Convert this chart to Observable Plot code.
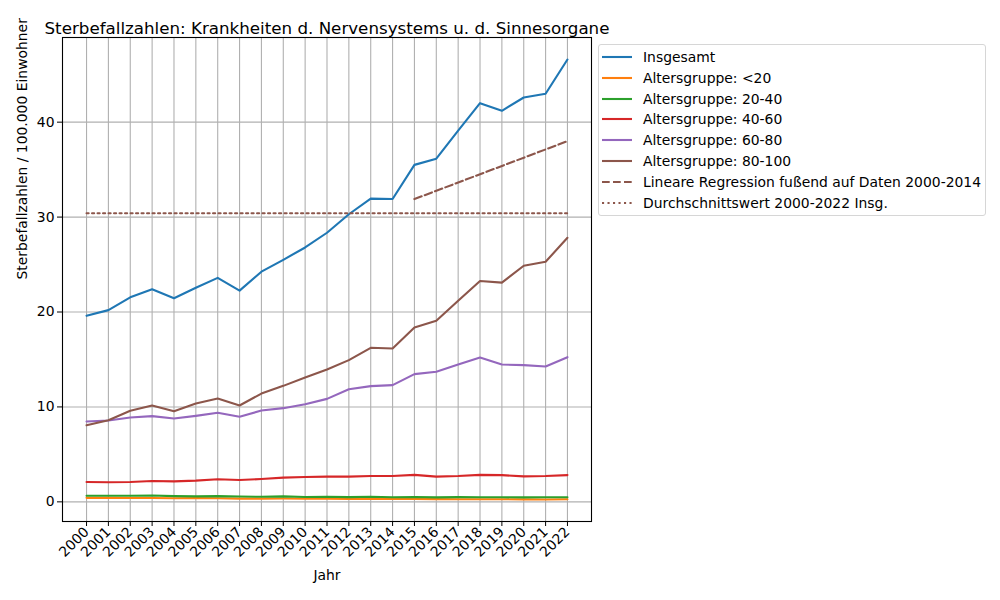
<!DOCTYPE html>
<html>
<head>
<meta charset="utf-8">
<script src="https://cdn.jsdelivr.net/npm/d3@7"></script>
<script src="https://cdn.jsdelivr.net/npm/@observablehq/plot@0.6"></script>
<style>
  body { margin: 0; background: #fff; font-family: "DejaVu Sans", sans-serif; }
  #wrap { position: relative; width: 1000px; height: 600px; }
  #legend { position: absolute; left: 598px; top: 44px; width: 388px; height: 172px;
    border: 1px solid #d6d6d6; border-radius: 3px; box-sizing: border-box; background: #fff; }
  .row { position: absolute; left: 0; height: 20px; display: flex; align-items: center; font-size: 13.9px; color: #000; white-space: nowrap; }
  .row svg { margin-left: 3px; margin-right: 11px; }
</style>
</head>
<body>
<div id="wrap"><div id="chart"></div><div id="legend"></div></div>
<script>
const years = [2000,2001,2002,2003,2004,2005,2006,2007,2008,2009,2010,2011,2012,2013,2014,2015,2016,2017,2018,2019,2020,2021,2022];
const insgesamt = [19.6,20.2,21.55,22.4,21.45,22.55,23.6,22.25,24.25,25.5,26.8,28.35,30.3,31.95,31.9,35.5,36.15,39.1,42.0,41.2,42.6,43.0,46.6];
const ag_u20   = [0.42,0.42,0.41,0.40,0.38,0.39,0.38,0.34,0.34,0.36,0.33,0.33,0.30,0.31,0.31,0.31,0.29,0.28,0.28,0.28,0.26,0.25,0.28];
const ag_20_40 = [0.64,0.64,0.64,0.67,0.60,0.58,0.60,0.56,0.53,0.58,0.51,0.54,0.50,0.54,0.48,0.51,0.47,0.50,0.48,0.48,0.47,0.48,0.48];
const ag_40_60 = [2.09,2.06,2.09,2.2,2.16,2.24,2.38,2.3,2.41,2.55,2.62,2.66,2.66,2.72,2.72,2.84,2.66,2.72,2.84,2.82,2.68,2.72,2.82];
const ag_60_80 = [8.46,8.57,8.88,9.03,8.78,9.06,9.38,8.96,9.62,9.87,10.29,10.85,11.87,12.19,12.3,13.46,13.7,14.47,15.2,14.47,14.4,14.26,15.24];
const ag_80_100= [8.08,8.6,9.59,10.15,9.55,10.36,10.89,10.15,11.41,12.22,13.1,13.94,14.93,16.23,16.16,18.37,19.07,21.18,23.26,23.1,24.87,25.29,27.82];
const regYears = [2015, 2022];
const regValues = [31.9, 38.0];
const avgValue = 30.4;
const yTicks = [0,10,20,30,40];

const seriesNames = ["Insgesamt","Altersgruppe: <20","Altersgruppe: 20-40","Altersgruppe: 40-60","Altersgruppe: 60-80","Altersgruppe: 80-100"];
const seriesValues = [insgesamt, ag_u20, ag_20_40, ag_40_60, ag_60_80, ag_80_100];
const colors = ["#1f77b4","#ff7f0e","#2ca02c","#d62728","#9467bd","#8c564b"];

const lineMarks = seriesValues.map((vals, i) =>
  Plot.line(years.map((y, j) => ({year: y, value: vals[j]})),
    {x: "year", y: "value", stroke: colors[i], strokeWidth: 2.1}));

const regData = regYears.map((y, j) => ({year: y, value: regValues[j]}));
const avgData = [years[0], years[years.length-1]].map(y => ({year: y, value: avgValue}));

const chart = Plot.plot({
  width: 1000, height: 600,
  marginLeft: 62, marginRight: 409, marginTop: 37, marginBottom: 79,
  style: {fontFamily: "DejaVu Sans", fontSize: "13.9px", color: "#000", background: "#fff"},
  x: {domain: [1998.9, 2023.1]},
  y: {domain: [-2.07, 48.92]},
  marks: [
    Plot.gridX(years, {stroke: "#b0b0b0", strokeOpacity: 1, strokeWidth: 1.1}),
    Plot.gridY(yTicks, {stroke: "#b0b0b0", strokeOpacity: 1, strokeWidth: 1.1}),
    Plot.axisX(years, {tickFormat: d => String(d), tickRotate: -45, tickSize: 5, tickPadding: 3, label: null, stroke: "#000"}),
    Plot.axisY(yTicks, {tickSize: 5, tickPadding: 3, label: null, stroke: "#000"}),
    ...lineMarks,
    Plot.line(regData, {x: "year", y: "value", stroke: "#8c564b", strokeWidth: 2.1, strokeDasharray: "7.7,3.3"}),
    Plot.line(avgData, {x: "year", y: "value", stroke: "#8c564b", strokeWidth: 2.1, strokeDasharray: "2.1,3.4"}),
    Plot.frame({stroke: "#000", strokeWidth: 1.1}),
    Plot.text(["Sterbefallzahlen: Krankheiten d. Nervensystems u. d. Sinnesorgane"], {frameAnchor: "top", dy: -15, fontSize: 16.7}),
    Plot.text(["Jahr"], {frameAnchor: "bottom", dy: 58}),
    Plot.text(["Sterbefallzahlen / 100.000 Einwohner"], {frameAnchor: "left", dx: -40, rotate: -90})
  ]
});
document.getElementById("chart").appendChild(chart);

// legend
const legendItems = [
  ...seriesNames.map((n, i) => ({name: n, color: colors[i], dash: null})),
  {name: "Lineare Regression fußend auf Daten 2000-2014", color: "#8c564b", dash: "7.7,3.3"},
  {name: "Durchschnittswert 2000-2022 Insg.", color: "#8c564b", dash: "2.1,3.4"}
];
const legend = document.getElementById("legend");
legendItems.forEach((it, i) => {
  const row = document.createElement("div");
  row.className = "row";
  row.style.top = (2 + i * 20.8) + "px";
  row.innerHTML = `<svg width="30" height="6"><line x1="0" x2="30" y1="3" y2="3" stroke="${it.color}" stroke-width="2.1" ${it.dash ? `stroke-dasharray="${it.dash}"` : ""}/></svg><span>${it.name}</span>`;
  legend.appendChild(row);
});
</script>
</body>
</html>
